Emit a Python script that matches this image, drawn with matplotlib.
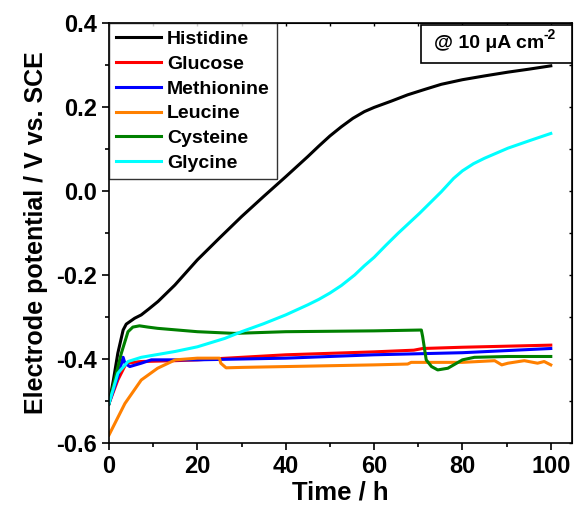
import matplotlib
matplotlib.use("Agg")
import matplotlib.pyplot as plt
from matplotlib.ticker import MultipleLocator, FormatStrFormatter
from matplotlib.patches import Rectangle

plt.rcParams['font.family'] = ['Liberation Sans', 'DejaVu Sans']
plt.rcParams['font.weight'] = 'bold'

his_t = [0, 1, 2, 3.2, 3.9, 5.8, 7.3, 9, 11.1, 14.9, 20, 25, 30, 35, 40, 45, 47.5, 50,
         52.6, 55.2, 57.8, 60, 63.9, 67.6, 71.5, 75.2, 80, 85, 90.3, 95, 100]
his_v = [-0.506, -0.45, -0.386, -0.331, -0.317, -0.303, -0.295, -0.281, -0.263, -0.224,
         -0.164, -0.112, -0.061, -0.013, 0.034, 0.082, 0.107, 0.131, 0.153, 0.173, 0.189,
         0.199, 0.214, 0.229, 0.242, 0.254, 0.265, 0.274, 0.283, 0.290, 0.298]

glu_t = [0, 2, 3.9, 7.3, 15, 20, 40, 60, 69, 71, 80, 100]
glu_v = [-0.506, -0.45, -0.41, -0.406, -0.404, -0.402, -0.39, -0.383, -0.379, -0.375, -0.372, -0.367]

met_t = [0, 2, 3.2, 3.6, 4.7, 7.3, 9.6, 20, 40, 60, 80, 100]
met_v = [-0.506, -0.442, -0.396, -0.41, -0.418, -0.41, -0.402, -0.402, -0.398, -0.39, -0.385, -0.375]

leu_t = [0, 3.6, 7.3, 11, 15, 20, 25, 25.3, 26.5, 30, 40, 60, 67.6, 68.4, 80, 87.3,
         88.9, 90.3, 94, 97, 98.5, 100]
leu_v = [-0.581, -0.506, -0.45, -0.422, -0.402, -0.398, -0.398, -0.41, -0.421, -0.42,
         -0.418, -0.414, -0.412, -0.408, -0.408, -0.404, -0.414, -0.41, -0.404, -0.41,
         -0.406, -0.414]

cys_t = [0, 1.5, 2.8, 4.3, 5.4, 6.9, 8.8, 11, 20, 28.4, 40, 60, 70.7, 71, 71.8, 73, 74.4,
         76.7, 80, 82.7, 90.3, 100]
cys_v = [-0.506, -0.44, -0.386, -0.335, -0.324, -0.321, -0.324, -0.327, -0.335, -0.339,
         -0.335, -0.333, -0.331, -0.347, -0.402, -0.418, -0.426, -0.422, -0.402, -0.396,
         -0.394, -0.394]

gly_t = [0, 2, 4.3, 7.3, 15, 20, 26.2, 30, 35, 40, 45, 47.5, 50, 52.6, 55.6, 57.8, 60, 62.7,
         65.4, 70.3, 75.2, 78, 80, 82.5, 85, 90.3, 95.5, 100]
gly_v = [-0.506, -0.434, -0.406, -0.396, -0.382, -0.371, -0.351, -0.335, -0.316, -0.295,
         -0.271, -0.258, -0.243, -0.225, -0.200, -0.178, -0.158, -0.129, -0.101, -0.053,
         -0.002, 0.030, 0.048, 0.065, 0.078, 0.102, 0.121, 0.137]

names = ['Histidine', 'Glucose', 'Methionine', 'Leucine', 'Cysteine', 'Glycine']
colors = ['#000000', '#FF0000', '#0000FF', '#FF8000', '#008000', '#00FFFF']
series = [(his_t, his_v), (glu_t, glu_v), (met_t, met_v), (leu_t, leu_v),
          (cys_t, cys_v), (gly_t, gly_v)]

fig = plt.figure(figsize=(5.74, 5.16), dpi=100)
ax = fig.add_axes([109/574, 73/516, 463/574, 420/516])

for (t, v), n, c in zip(series, names, colors):
    ax.plot(t, v, color=c, lw=2.2, label=n, solid_joinstyle='round')

ax.set_xlim(0, 104.8)
ax.set_ylim(-0.6, 0.4)
ax.xaxis.set_major_locator(MultipleLocator(20))
ax.xaxis.set_minor_locator(MultipleLocator(10))
ax.yaxis.set_major_locator(MultipleLocator(0.2))
ax.yaxis.set_minor_locator(MultipleLocator(0.1))
ax.yaxis.set_major_formatter(FormatStrFormatter('%.1f'))
for s in ax.spines.values():
    s.set_linewidth(1.2)
ax.tick_params(which='major', direction='out', length=5, width=1.2, labelsize=17)
ax.tick_params(which='minor', direction='out', length=3, width=1.2)
for lab in ax.get_xticklabels() + ax.get_yticklabels():
    lab.set_fontweight('bold')

secx = ax.secondary_xaxis('top')
secx.xaxis.set_major_locator(MultipleLocator(10))
secx.tick_params(direction='in', length=2.5, width=1, labeltop=False)
secy = ax.secondary_yaxis('right')
secy.yaxis.set_major_locator(MultipleLocator(0.1))
secy.tick_params(direction='in', length=2.5, width=1, labelright=False)

ax.set_xlabel('Time / h', fontsize=18.5, fontweight='bold', labelpad=2)
ax.set_ylabel('Electrode potential / V vs. SCE', fontsize=18, fontweight='bold', labelpad=6)

leg = ax.legend(loc='upper left', fontsize=14, frameon=True, fancybox=False,
                borderaxespad=0, handlelength=2.3, handletextpad=0.3,
                labelspacing=0.37, borderpad=0.38)
leg.get_frame().set_edgecolor('black')
leg.get_frame().set_linewidth(1.0)
for txt in leg.get_texts():
    txt.set_fontweight('bold')
for line in leg.get_lines():
    line.set_linewidth(2.2)

x0 = (421 - 109) / 463
y0 = (443 - 63) / 420
y1 = (443 - 25) / 420
ax.add_patch(Rectangle((x0, y0), 1 - x0, y1 - y0, transform=ax.transAxes,
                       fc='white', ec='black', lw=1.2, zorder=5, clip_on=False))
main = ax.text((x0 + 1) / 2 - 0.017, (y0 + y1) / 2, '@ 10 μA cm', transform=ax.transAxes,
               ha='center', va='center', fontsize=14, fontweight='bold', zorder=6)
ax.annotate('-2', xy=(1, 0.62), xycoords=main, ha='left', va='bottom',
            fontsize=10, fontweight='bold', zorder=6)

fig.savefig('out.png', dpi=100)
